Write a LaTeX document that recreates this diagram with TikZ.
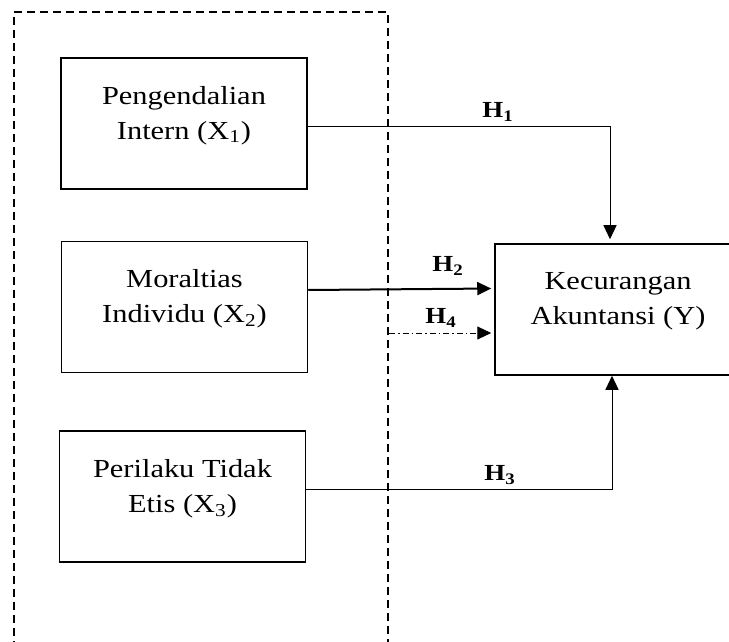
\documentclass[tikz,border=0pt]{standalone}
\usepackage{fontspec}
\setmainfont[FakeStretch=1.17]{Liberation Serif}
\usetikzlibrary{arrows.meta,positioning,calc}

\tikzset{
  varbox/.style={draw, line width=0.75pt, minimum width=123pt, minimum height=65.5pt},
  vartext/.style={align=center, inner sep=0pt, font=\fontsize{13}{17.5}\selectfont},
  hlabel/.style={inner sep=0pt, font=\fontsize{11.5}{14}\selectfont\bfseries},
  link/.style={line width=0.5pt, -{Triangle[length=7pt,width=6.5pt]}},
}

\begin{document}
\begin{tikzpicture}[x=0.5pt,y=-0.5pt]
\clip (0,0) rectangle (729,642);
\node[draw, line width=1pt, dash pattern=on 4pt off 2.5pt, minimum width=187pt, minimum height=319pt] (frame) at (201,331) {};

\node[varbox] (x1) at (184,123.5) {};
\node[varbox] (x2) at (184.5,307) {};
\node[varbox] (x3) at (182.5,496.5) {};
\node[varbox] (y) at (618,309.5) {};

\node[vartext] (x1t) at ($(x1)+(0,-8)$) {Pengendalian\\Intern (X\textsubscript{1})};
\node[vartext] (x2t) at ($(x2)+(0,-8)$) {Moraltias\\Individu (X\textsubscript{2})};
\node[vartext] (x3t) at ($(x3)+(0,-8)$) {Perilaku Tidak\\Etis (X\textsubscript{3})};
\node[vartext] (yt) at ($(y)+(0,-8)$) {Kecurangan\\Akuntansi (Y)};

\coordinate (h4) at ($(y.west)+(0,23.5)$);

\draw[link, shorten >=2pt] ($(x1.east)+(0,3)$) -| ($(y.north)+(-8,0)$);
\draw[link, line width=1pt, shorten >=1.5pt] ($(x2.east)+(0,-17)$) -- ($(y.west)+(0,-21)$);
\draw[link, shorten >=1.5pt, dash pattern=on 3pt off 1.5pt on 0.75pt off 1.5pt] (frame.east |- h4) -- (h4);
\draw[link] ($(x3.east)+(0,-7)$) -| ($(y.south)+(-6,0)$);

\node[hlabel] (h1l) at (498,112) {H\textsubscript{1}};
\node[hlabel] (h2l) at (448,266) {H\textsubscript{2}};
\node[hlabel] (h4l) at (441,318) {H\textsubscript{4}};
\node[hlabel] (h3l) at (500,475) {H\textsubscript{3}};
\end{tikzpicture}
\end{document}
